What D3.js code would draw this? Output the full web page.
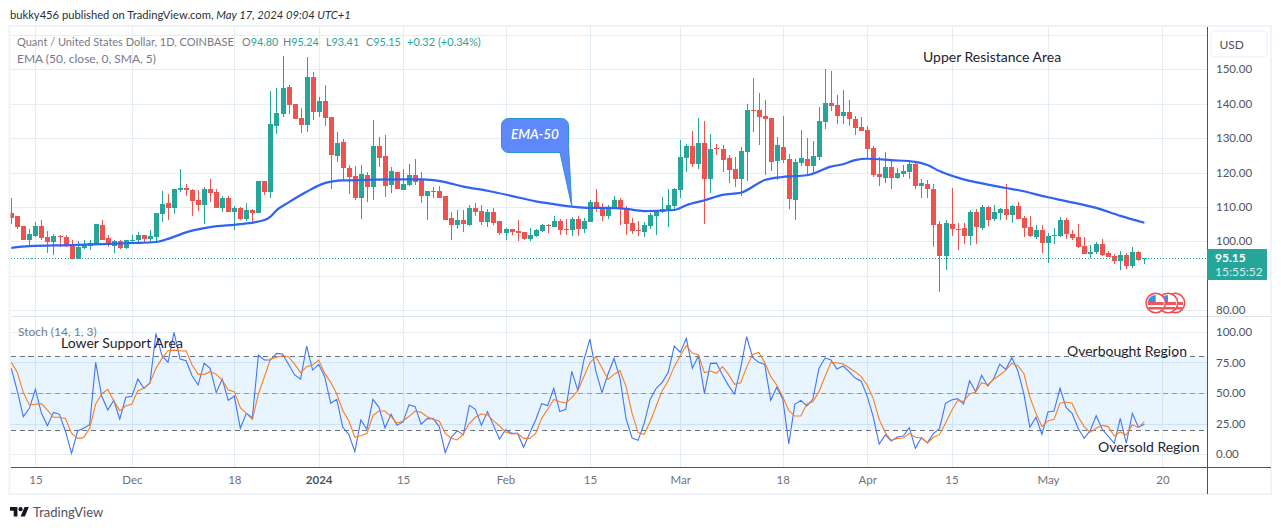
<!DOCTYPE html>
<html>
<head>
<meta charset="utf-8">
<script src="https://cdn.jsdelivr.net/npm/d3@7"></script>
<style>
  html, body { margin: 0; padding: 0; background: #fff; }
  svg { display: block; }
  text { font-family: Lato, "Noto Sans", sans-serif; }
</style>
</head>
<body>
<div id="chart"></div>
<script>
const firstDay = Date.UTC(2023, 10, 11)

const opens = [
  108.2,107.4,104.5,100.4,101.6,104.5,101.3,99.8,101.6,101.3,
  99.2,94.9,98.1,98.6,99.0,104.8,101.0,98.6,100.1,98.1,
  100.2,100.4,101.8,100.7,101.3,107.9,111.1,109.7,114.9,115.5,
  114.9,112.0,110.6,115.2,114.3,109.7,112.6,108.5,109.7,106.5,
  109.1,108.2,117.5,114.3,133.5,137.0,144.9,139.9,135.9,133.8,
  147.8,137.6,140.8,136.1,124.8,128.9,121.3,119.0,112.6,119.3,
  115.8,127.7,124.8,116.4,120.2,114.9,116.4,119.3,117.8,113.2,
  114.4,114.6,113.2,106.8,104.7,106.2,104.7,109.7,108.8,105.6,
  108.5,105.9,102.4,103.6,103.0,102.7,100.7,101.6,103.0,104.7,
  104.2,105.9,103.6,103.3,106.5,103.6,105.6,111.4,110.0,107.4,
  109.7,112.0,109.7,105.3,103.3,102.7,104.5,107.4,108.5,109.1,
  110.3,114.9,124.2,127.7,122.5,128.6,118.1,127.1,126.8,124.2,
  121.0,118.1,126.0,138.2,138.2,136.4,135.9,123.4,127.4,123.9,
  112.0,122.8,123.9,121.9,124.5,134.7,140.2,139.6,136.4,137.6,
  135.6,133.2,132.4,127.1,119.6,118.4,121.6,118.4,119.6,120.2,
  122.5,116.1,116.7,115.2,105.0,95.7,105.0,103.6,103.9,101.6,
  108.5,103.9,110.0,106.5,108.2,109.4,107.7,110.3,106.8,104.2,
  101.3,103.3,99.5,101.6,101.6,106.2,102.1,101.3,98.6,96.3,
  96.9,99.2,96.6,95.7,94.3,96.0,92.8,96.9,94.8
]
const highs = [
  112.6,107.5,104.5,103.6,105.6,106.2,103.0,102.1,101.8,101.8,
  100.4,100.1,100.4,100.4,105.0,106.2,101.8,100.4,100.4,100.4,
  101.8,102.6,101.8,103.3,108.2,114.5,113.8,115.2,121.0,116.7,
  115.2,114.9,115.8,118.1,115.2,113.2,113.2,110.3,110.0,111.1,
  109.4,117.5,117.5,143.7,144.6,153.9,145.4,139.9,138.8,153.6,
  149.2,142.0,145.4,136.1,131.8,129.7,122.2,121.9,122.2,120.2,
  135.3,130.3,130.9,121.6,120.2,121.0,122.5,123.9,120.2,114.6,
  115.8,116.1,113.2,108.5,109.1,109.1,110.6,111.1,110.6,109.4,
  109.7,105.9,103.9,103.6,106.2,102.7,103.9,103.6,105.0,105.0,
  107.4,106.5,106.5,107.1,107.4,106.8,112.0,115.2,111.1,110.6,
  113.2,112.6,110.3,106.8,105.9,105.6,108.2,109.1,112.9,115.2,
  115.5,129.5,128.3,132.1,135.9,135.0,131.2,128.3,128.0,125.1,
  124.5,127.4,139.9,147.5,143.1,141.1,135.9,130.3,136.4,125.4,
  123.9,132.4,130.0,129.2,139.1,150.1,149.5,142.5,144.0,141.1,
  136.4,136.1,133.5,127.7,124.5,126.0,123.9,121.3,122.2,123.6,
  123.4,118.1,117.8,116.7,105.9,106.2,115.5,105.3,105.3,109.1,
  109.4,110.6,110.3,110.6,109.7,116.7,110.6,111.4,107.4,107.4,
  104.7,104.7,102.4,103.9,107.1,106.8,103.3,105.0,101.3,98.9,
  99.8,100.7,97.2,96.3,97.2,96.6,98.4,97.2,95.24
]
const lows = [
  105.0,103.7,100.4,98.4,101.2,100.4,96.6,96.0,98.4,98.3,
  94.9,94.9,97.8,97.5,99.0,100.4,98.3,96.6,97.8,97.8,
  99.8,99.8,99.8,99.8,99.4,105.6,106.2,107.9,114.3,113.2,
  107.4,108.8,105.0,111.4,109.7,108.5,108.5,103.3,106.2,105.9,
  105.6,108.2,113.5,112.6,131.2,136.1,137.0,135.6,131.5,131.8,
  135.3,136.1,133.5,115.2,123.1,117.8,113.8,112.0,106.5,111.4,
  112.0,121.6,112.9,114.1,115.2,114.9,116.1,116.4,111.1,106.2,
  112.6,112.6,106.2,100.4,103.6,102.7,104.5,107.4,104.7,104.2,
  104.7,101.8,100.4,101.8,100.1,100.4,100.1,101.3,102.7,102.4,
  104.2,101.8,101.8,101.6,101.6,102.4,105.6,108.5,105.9,106.5,
  109.4,104.7,101.8,102.1,101.6,101.3,103.6,101.8,108.2,104.2,
  109.4,112.6,120.2,121.6,121.0,105.0,114.1,125.1,120.2,117.0,
  115.8,113.2,117.5,131.8,128.0,119.3,120.4,117.8,122.8,109.4,
  106.2,121.9,119.0,120.2,123.6,132.7,137.9,134.1,134.1,133.5,
  130.9,132.1,123.9,118.7,116.1,117.0,115.2,118.1,118.7,118.1,
  115.2,112.6,112.6,98.4,85.3,91.7,101.6,97.5,99.2,98.9,
  99.2,103.3,104.5,105.9,106.2,106.2,105.3,106.5,101.3,101.3,
  100.7,96.6,93.7,99.2,101.3,100.7,100.4,98.1,96.3,95.2,
  96.3,95.7,95.4,93.4,91.7,92.0,92.2,94.3,93.41
]
const closes = [
  106.9,104.3,100.4,102.1,104.5,101.0,99.8,101.6,101.4,98.8,
  94.9,98.3,98.8,99.4,105.0,100.4,98.9,100.0,98.1,100.4,
  100.4,101.8,100.7,101.6,108.2,110.9,109.7,115.2,115.5,114.9,
  111.7,110.6,115.2,114.1,109.7,112.6,108.5,109.7,106.5,109.1,
  108.2,117.5,114.3,134.1,137.3,144.6,139.6,135.6,133.8,147.8,
  137.6,140.8,135.9,125.1,128.6,121.3,118.7,112.6,119.6,115.8,
  127.7,124.2,116.1,120.4,115.2,116.7,119.3,117.2,113.2,114.6,
  114.6,112.6,106.2,104.7,106.2,105.0,109.7,108.5,105.6,108.5,
  105.3,102.4,103.6,102.7,102.4,100.7,101.8,103.3,104.7,104.5,
  105.9,103.3,103.4,106.5,103.6,105.9,111.4,109.7,107.4,110.0,
  112.0,109.4,105.0,103.0,103.1,104.7,107.7,108.8,109.4,110.6,
  115.2,124.5,127.7,122.5,128.6,118.1,126.8,126.9,123.6,120.7,
  118.1,126.3,138.2,138.0,136.1,135.6,123.1,128.0,123.6,112.3,
  123.1,124.2,121.9,124.8,135.0,140.2,139.3,136.4,137.6,135.6,
  132.9,132.1,126.8,119.3,118.7,121.6,118.4,119.9,120.4,122.5,
  116.1,117.0,115.2,104.7,95.7,105.3,103.6,103.3,101.6,108.5,
  104.2,110.0,106.2,108.5,109.4,107.7,110.3,106.5,103.9,101.6,
  103.3,99.5,101.6,101.8,106.2,102.1,101.0,98.4,96.3,96.9,
  99.2,96.0,95.4,94.3,96.0,92.8,96.9,94.6,95.15
]

const emaDays = [0,3,10,15,20,24,26,29,33,38,42,43,44,46,49,52,55,60,68,70,72,75,79,83,87,90,93,96,99,102,105,110,112,115,118,121,125,128,132,136,138,140,142,146,150,152,154,158,160,165,167,172,175,180,184,188]
const emaValues = [98.1,98.6,98.9,99.2,99.5,99.8,100.7,102.6,104.1,105.0,106.2,107.2,109.0,111.3,114.4,116.9,117.7,117.9,118.0,117.8,117.2,115.9,114.7,113.2,111.6,110.8,110.1,109.7,109.7,109.4,108.8,109.1,110.5,111.9,113.5,114.1,117.8,118.7,119.2,121.7,122.4,123.6,124.0,123.6,123.1,122.2,120.4,118.0,117.2,115.5,114.9,112.8,111.7,109.7,107.4,105.4]

const stochK = [
  70.1,51.6,30.7,37.5,53.0,33.4,23.4,34.2,32.6,18.5,
  0.8,19.0,21.2,24.2,75.0,47.5,36.1,44.0,28.8,46.5,
  47.3,61.4,53.8,57.9,98.6,80.4,75.0,99.4,77.7,76.3,
  64.1,56.5,74.2,70.1,50.3,61.4,44.0,47.5,21.2,33.4,
  29.9,81.0,76.9,76.9,82.3,81.8,73.4,64.7,61.4,88.3,
  68.7,73.4,63.3,41.6,44.8,22.0,16.3,2.2,28.0,20.4,
  44.8,38.3,21.5,32.6,23.6,26.4,40.5,38.9,24.5,29.1,
  29.1,22.6,1.4,13.9,19.3,15.8,39.9,36.7,23.6,34.8,
  23.6,12.5,20.1,17.1,17.1,5.7,17.1,28.0,41.3,39.7,
  53.8,34.8,36.7,67.7,51.9,76.9,94.0,67.4,50.3,65.5,
  78.2,61.9,28.8,13.3,11.4,25.3,44.8,53.8,58.7,66.8,
  88.3,83.1,94.6,70.1,80.2,49.7,74.2,74.4,64.7,56.0,
  49.2,70.1,95.9,79.1,75.0,73.4,44.0,54.6,45.1,8.4,
  40.8,44.0,39.4,45.1,70.1,78.5,76.9,69.6,72.0,67.4,
  62.2,59.8,47.5,30.7,8.4,15.8,10.9,14.1,14.9,21.7,
  4.9,13.6,9.5,17.1,20.9,41.6,44.3,45.4,41.0,60.0,
  51.1,64.4,55.7,61.7,73.6,69.3,78.8,68.2,49.2,22.0,
  30.2,16.3,34.5,35.3,53.8,38.3,33.4,21.2,13.0,19.3,
  31.5,20.4,14.9,9.0,29.3,9.0,33.4,22.0,24.5
]
const stochD = [
  75.0,66.8,50.3,40.2,40.8,41.3,36.1,30.2,30.2,29.1,
  17.1,13.0,13.6,21.2,41.0,49.2,53.0,43.7,35.6,39.4,
  41.0,51.9,53.8,58.4,70.1,78.2,84.5,85.0,84.2,84.5,
  72.8,65.2,65.2,67.4,65.2,60.6,52.4,51.1,38.0,33.4,
  28.5,49.2,63.3,77.7,79.1,80.4,79.6,73.6,66.6,71.5,
  72.8,76.9,66.0,58.7,49.2,35.6,27.4,13.9,15.2,17.1,
  31.5,35.3,35.3,30.7,25.5,27.2,31.0,35.3,34.2,30.7,
  28.5,27.2,17.1,13.0,11.7,16.6,25.3,30.2,33.1,32.1,
  27.2,23.1,18.2,16.6,17.1,13.0,13.0,17.1,29.3,36.7,
  44.8,42.9,41.8,46.5,51.9,63.3,74.7,79.6,70.6,61.1,
  65.2,68.2,55.2,33.4,17.7,16.3,26.6,39.4,51.9,60.0,
  71.5,80.4,88.6,82.6,81.2,66.6,67.9,66.0,71.5,65.2,
  57.1,58.4,70.9,81.5,83.1,75.0,63.3,56.5,47.0,35.6,
  31.2,31.2,41.0,42.9,51.1,63.3,75.0,74.7,73.6,70.6,
  67.4,63.3,56.5,45.6,28.5,17.7,11.4,13.0,13.3,17.1,
  13.9,13.3,9.2,13.9,16.0,25.3,35.6,43.7,43.2,49.2,
  50.8,58.4,56.8,61.1,64.7,68.7,74.2,72.3,66.0,46.5,
  33.4,22.6,27.2,28.5,41.6,42.7,41.6,30.7,22.6,17.9,
  21.2,23.6,22.6,14.9,18.2,15.8,24.2,21.7,26.6
]

const priceTicks = [80, 90, 100, 110, 120, 130, 140, 150, 160]
const priceLabels = [80, 100, 110, 120, 130, 140, 150]
const stochTicks = [0, 25, 50, 75, 100]
const timeTicks = [
  Date.UTC(2023,10,15), Date.UTC(2023,11,1), Date.UTC(2023,11,18), Date.UTC(2024,0,1),
  Date.UTC(2024,0,15), Date.UTC(2024,1,1), Date.UTC(2024,1,15), Date.UTC(2024,2,1),
  Date.UTC(2024,2,18), Date.UTC(2024,3,1), Date.UTC(2024,3,15), Date.UTC(2024,4,1), Date.UTC(2024,4,20)
]
const timeLabels = ['15','Dec','18','2024','15','Feb','15','Mar','18','Apr','15','May','20']

const UP = '#26a69a'
const DOWN = '#ef5350'
const GRID = '#e4edf4'
const AXIS = '#50535e'
const LABEL = '#787b86'

const dayMs = 86400000
const dayOf = (i) => firstDay + i * dayMs

const width = 1281, height = 530
const plotLeft = 10.5, plotRight = 1207
const svg = d3.select('#chart').append('svg').attr('width', width).attr('height', height)

const x = d3.scaleUtc().domain([dayOf(0), dayOf(188)]).range([11.3, 1144.4])
const yPrice = d3.scaleLinear().domain([100, 150]).range([241.3, 69.3])
const yStoch = d3.scaleLinear().domain([0, 100]).range([454.3, 331.7])

// outer frame
svg.append('rect').attr('x', 9.5).attr('y', 26).attr('width', 1261.5).attr('height', 468)
  .attr('fill', 'none').attr('stroke', '#f0f3fa').attr('stroke-width', 2)

const defs = svg.append('defs')
defs.append('clipPath').attr('id', 'topClip').append('rect')
  .attr('x', plotLeft).attr('y', 27).attr('width', plotRight - plotLeft).attr('height', 289)
defs.append('clipPath').attr('id', 'botClip').append('rect')
  .attr('x', plotLeft).attr('y', 317).attr('width', plotRight - plotLeft).attr('height', 150)

// grid
const grid = svg.append('g').attr('shape-rendering', 'crispEdges').attr('stroke', GRID)
grid.selectAll('.vg').data(timeTicks).join('line').attr('class', 'vg')
  .attr('x1', (d) => Math.round(x(d)) + 0.5).attr('x2', (d) => Math.round(x(d)) + 0.5)
  .attr('y1', 27).attr('y2', 467)
grid.selectAll('.hp').data(priceTicks).join('line').attr('class', 'hp')
  .attr('x1', plotLeft).attr('x2', plotRight)
  .attr('y1', (d) => Math.round(yPrice(d)) + 0.5).attr('y2', (d) => Math.round(yPrice(d)) + 0.5)
grid.selectAll('.hs').data(stochTicks).join('line').attr('class', 'hs')
  .attr('x1', plotLeft).attr('x2', plotRight)
  .attr('y1', (d) => Math.round(yStoch(d)) + 0.5).attr('y2', (d) => Math.round(yStoch(d)) + 0.5)

// candles
const candleGroup = svg.append('g').attr('clip-path', 'url(#topClip)').attr('shape-rendering', 'crispEdges')
const candles = candleGroup.selectAll('g').data(closes).join('g')
  .attr('fill', (d, i) => d >= opens[i] ? UP : DOWN)
candles.append('rect')
  .attr('x', (d, i) => Math.round(x(dayOf(i))))
  .attr('width', 1)
  .attr('y', (d, i) => yPrice(highs[i]))
  .attr('height', (d, i) => yPrice(lows[i]) - yPrice(highs[i]))
candles.append('rect')
  .attr('x', (d, i) => Math.round(x(dayOf(i))) - 2)
  .attr('width', 5)
  .attr('y', (d, i) => yPrice(Math.max(d, opens[i])))
  .attr('height', (d, i) => Math.max(1, Math.abs(yPrice(d) - yPrice(opens[i]))))

// last price dotted line
svg.append('line').attr('x1', plotLeft).attr('x2', plotRight)
  .attr('y1', Math.round(yPrice(95.15)) + 0.5).attr('y2', Math.round(yPrice(95.15)) + 0.5)
  .attr('stroke', UP).attr('stroke-dasharray', '1 2').attr('shape-rendering', 'crispEdges')

// ema
const emaLine = d3.line()
  .x((d, i) => x(dayOf(emaDays[i])))
  .y((d) => yPrice(d))
  .curve(d3.curveMonotoneX)
svg.append('path').datum(emaValues).attr('d', emaLine).attr('fill', 'none')
  .attr('stroke', '#2f62f5').attr('stroke-width', 2.2).attr('clip-path', 'url(#topClip)')

// stoch pane
svg.append('rect').attr('x', plotLeft).attr('width', plotRight - plotLeft)
  .attr('y', yStoch(80)).attr('height', yStoch(20) - yStoch(80))
  .attr('fill', '#2196f3').attr('fill-opacity', 0.1)
svg.selectAll('.band').data([80, 50, 20]).join('line').attr('class', 'band')
  .attr('x1', plotLeft).attr('x2', plotRight)
  .attr('y1', (d) => Math.round(yStoch(d)) + 0.5).attr('y2', (d) => Math.round(yStoch(d)) + 0.5)
  .attr('stroke', (d) => d === 50 ? '#9598a1' : '#6f727c')
  .attr('stroke-dasharray', '5 4').attr('shape-rendering', 'crispEdges')

const stochLine = d3.line().x((d, i) => x(dayOf(i))).y((d) => yStoch(d))
const stochGroup = svg.append('g').attr('clip-path', 'url(#botClip)').attr('fill', 'none').attr('stroke-width', 1.1)
stochGroup.append('path').datum(stochK).attr('d', stochLine).attr('stroke', '#4274f6')
stochGroup.append('path').datum(stochD).attr('d', stochLine).attr('stroke', '#fb7d22')

// separators and axis lines
const lines = svg.append('g').attr('shape-rendering', 'crispEdges')
lines.append('line').attr('x1', plotLeft).attr('x2', 1271).attr('y1', 316.5).attr('y2', 316.5).attr('stroke', '#e0e3eb')
lines.append('line').attr('x1', plotLeft).attr('x2', 1271).attr('y1', 467.5).attr('y2', 467.5).attr('stroke', AXIS)
lines.append('line').attr('x1', 1207.5).attr('x2', 1207.5).attr('y1', 27).attr('y2', 494).attr('stroke', AXIS)

// axes
const axisPrice = d3.axisRight(yPrice).tickValues(priceLabels).tickFormat(d3.format('.2f')).tickSize(0).tickPadding(8.5)
const gPrice = svg.append('g').attr('transform', 'translate(1207.5,0)').call(axisPrice)
const axisStoch = d3.axisRight(yStoch).tickValues(stochTicks).tickFormat(d3.format('.2f')).tickSize(0).tickPadding(8.5)
const gStoch = svg.append('g').attr('transform', 'translate(1207.5,0)').call(axisStoch)
const axisTime = d3.axisBottom(x).tickValues(timeTicks).tickFormat((d, i) => timeLabels[i]).tickSize(0).tickPadding(8)
const gTime = svg.append('g').attr('transform', 'translate(0,467.5)').call(axisTime)
for (const g of [gPrice, gStoch, gTime]) {
  g.select('.domain').remove()
  g.selectAll('text').attr('font-size', 11.5).attr('fill', '#50535e')
}
gTime.selectAll('text').attr('fill', '#6f727c')
  .filter((d, i) => timeLabels[i] === '2024').attr('font-weight', 700).attr('fill', '#50535e')

// header and legend
function label(px, py, str, size, fill, weight) {
  return svg.append('text').attr('x', px).attr('y', py).attr('font-size', size)
    .attr('fill', fill).attr('font-weight', weight || 400).text(str)
}
const head = label(10, 19, '', 11.2, '#2a2e39')
head.append('tspan').text('bukky456 published on TradingView.com, ')
head.append('tspan').attr('font-style', 'italic').text('May 17, 2024 09:04 UTC+1')

label(17, 46, 'Quant / United States Dollar, 1D, COINBASE', 11, LABEL)
const legendParts = [[242, 'O', '94.80'], [283, 'H', '95.24'], [326, 'L', '93.41'], [366, 'C', '95.15']]
for (const p of legendParts) {
  const t = label(p[0], 46, p[1], 10.8, LABEL)
  t.append('tspan').attr('fill', UP).text(p[2])
}
label(407, 46, '+0.32 (+0.34%)', 11, UP)
label(17, 63, 'EMA (50, close, 0, SMA, 5)', 12, LABEL)
label(18, 336, 'Stoch (14, 1, 3)', 12, LABEL)

// notes drawn on the chart
const notes = [
  [923, 62, 'Upper Resistance Area'],
  [61, 348, 'Lower Support Area'],
  [1067, 356, 'Overbought Region'],
  [1098, 452, 'Oversold Region']
]
for (const n of notes) {
  label(n[0], n[1], n[2], 14, '#1e222d')
}

// EMA-50 callout, tail ends on the line
const tipX = x(dayOf(93)), tipY = yPrice(110.1)
const callout = d3.path()
callout.moveTo(508.5, 118.5)
callout.lineTo(561.5, 118.5)
callout.arcTo(568.5, 118.5, 568.5, 125.5, 7)
callout.lineTo(568.5, 145.5)
callout.lineTo(tipX, tipY)
callout.lineTo(560, 152.5)
callout.lineTo(508.5, 152.5)
callout.arcTo(501.5, 152.5, 501.5, 145.5, 7)
callout.lineTo(501.5, 125.5)
callout.arcTo(501.5, 118.5, 508.5, 118.5, 7)
svg.append('path').attr('d', callout.toString()).attr('fill', '#5f88fb').attr('stroke', '#2a93d0').attr('stroke-width', 1)
label(511, 139, 'EMA-50', 13.5, '#ffffff', 600).attr('font-style', 'italic')

// price tag
svg.append('rect').attr('x', 1207).attr('y', 249).attr('width', 60).attr('height', 31).attr('rx', 1).attr('fill', UP)
label(1215, 262, '95.15', 12, '#ffffff', 700)
label(1215, 276, '15:55:52', 12, '#d5f0ec')

// USD button
svg.append('rect').attr('x', 1211).attr('y', 31).attr('width', 56).attr('height', 26).attr('rx', 4)
  .attr('fill', '#fff').attr('stroke', '#f0f3fa').attr('stroke-width', 1.5)
label(1219.5, 49, 'USD', 12, '#50535e')

// flag markers
const flagX = [1175, 1168, 1155.7]
const flags = svg.selectAll('.flag').data(flagX).join('g').attr('class', 'flag')
  .attr('transform', (d) => `translate(${d},303)`)
flags.append('circle').attr('r', 9.7).attr('fill', '#fff').attr('stroke', '#f04a4e').attr('stroke-width', 1.5)
flags.append('rect').attr('x', -8).attr('y', -1).attr('width', 16).attr('height', 3).attr('fill', '#f0565a')
flags.append('rect').attr('x', -7).attr('y', 4).attr('width', 14).attr('height', 2.5).attr('fill', '#f0565a')
flags.append('path').attr('d', 'M-8,-1 A8,8 0 0 1 0,-8 L0,-1 Z').attr('fill', '#3d8ee8')

// TradingView footer
const logo = svg.append('g').attr('transform', 'translate(10,504.9) scale(0.53)').attr('fill', '#131722')
logo.append('path').attr('d', 'M14 22H7V11H0V4h14v18zM28 22h-8l7.5-18h8L28 22z')
logo.append('circle').attr('cx', 20).attr('cy', 8).attr('r', 4)
label(33, 517, 'TradingView', 13, '#50535e')
</script>
</body>
</html>
